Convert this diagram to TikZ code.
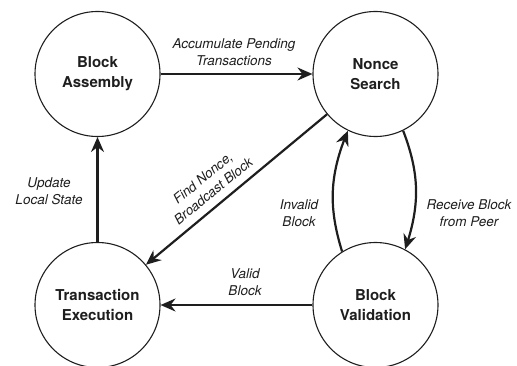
\documentclass[tikz,border=0pt]{standalone}
\usepackage{fontspec}
\setmainfont{TeX Gyre Heros}
\usetikzlibrary{arrows.meta,bending}
\definecolor{ink}{HTML}{1E1E1E}
\begin{document}
\begin{tikzpicture}[x=1pt,y=1pt,
  state/.style={circle,draw=ink,line width=1.1pt,minimum size=125pt,inner sep=0pt,align=center,
    font=\fontsize{15}{20}\selectfont\bfseries,text=ink},
  trans/.style={draw=ink,line width=2.2pt,-{Stealth[length=15pt,width=13pt,inset=5pt]}},
  lbl/.style={font=\fontsize{13.5}{16.5}\selectfont\itshape,text=ink,align=center,inner sep=0pt}]
\useasboundingbox (0,0) rectangle (517,365);
\node[state] (ba) at (97.5,291) {Block\\Assembly};
\node[state] (ns) at (375.5,291) {Nonce\\Search};
\node[state] (te) at (97.5,60) {Transaction\\Execution};
\node[state] (bv) at (375.5,60) {Block\\Validation};

\draw[trans] (ba) -- (ns);
\draw[trans] (ns) -- (te);
\draw[trans] (te) -- (ba);
\draw[trans] (bv) -- (te);
\draw[trans] (ns.-64) to[bend left=20] (bv.62);
\draw[trans] (bv.122) to[bend left=20] (ns.-116);

\node[lbl] (l1) at (234,313) {Accumulate Pending\\Transactions};
\node[lbl] (l2) at (49,174) {Update\\Local State};
\node[lbl] (l3) at (245,83) {Valid\\Block};
\node[lbl] (l4) at (299,152) {Invalid\\Block};
\node[lbl] (l5) at (469,152) {Receive Block\\from Peer};
\node[lbl,rotate=39.4] (l6) at (208,180.5) {Find Nonce,\\Broadcast Block};
\end{tikzpicture}
\end{document}
